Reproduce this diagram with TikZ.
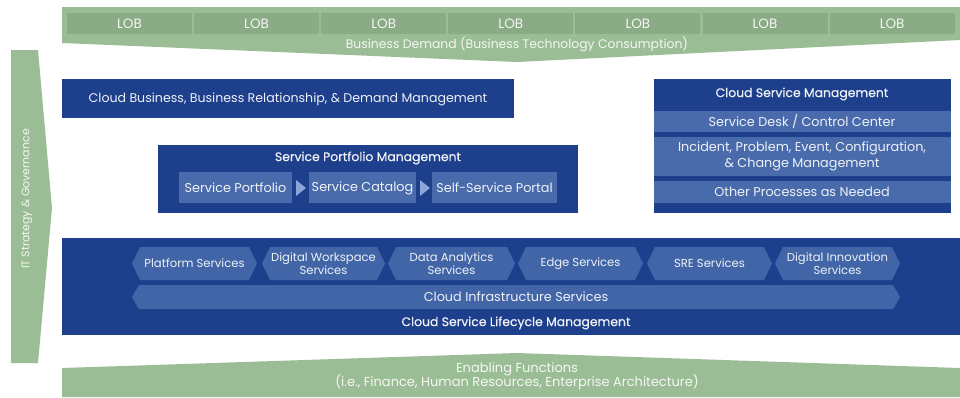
\documentclass[tikz,border=0pt]{standalone}
\usepackage{fontspec}
\setmainfont{Poppins}
\newfontfamily\medfont[FakeBold=0.5]{Poppins}
\definecolor{dblue}{HTML}{1E3F8C}
\definecolor{lblue}{HTML}{4A6BAB}
\definecolor{hblue}{HTML}{4165A7}
\definecolor{tri}{HTML}{8AA6D6}
\definecolor{green}{HTML}{9BBD95}
\definecolor{dgreen}{HTML}{8BAB87}
\definecolor{wtext}{HTML}{EEF1F7}
\definecolor{gtext}{HTML}{F4F7F2}
\tikzset{
  txt/.style={text=wtext, font=\fontsize{12.8}{13}\selectfont, align=center, inner sep=0pt},
  hextxt/.style={text=wtext, font=\fontsize{11.6}{13}\selectfont, align=center, inner sep=0pt},
  gtxt/.style={text=gtext, font=\fontsize{12.4}{14}\selectfont, align=center, inner sep=0pt},
  titletxt/.style={txt, font=\medfont\fontsize{12.4}{13}\selectfont},
}
\newcommand{\hexa}[5]{% x1 x2 y1 y2 depth
  \fill[hblue] (#1,{(#3+#4)/2}) -- (#1+#5,#3) -- (#2-#5,#3) -- (#2,{(#3+#4)/2}) -- (#2-#5,#4) -- (#1+#5,#4) -- cycle;}
\begin{document}
\begin{tikzpicture}[x=1pt,y=-1pt]
\useasboundingbox (0,0) rectangle (960,397);
\fill[white] (0,0) rectangle (960,397);
% top banner
\fill[green] (62,7) -- (960,7) -- (960,40) -- (517,62) -- (62,43) -- cycle;
\foreach \i in {0,...,6} {
  \pgfmathsetmacro{\xa}{67+\i*127.1}
  \fill[dgreen] (\xa,13) rectangle (\xa+125,34);
  \node[gtxt, font=\fontsize{13.5}{14}\selectfont] (lob\i) at (\xa+62.5,24) {LOB};
}
\node[gtxt] (demand) at (517,44) {Business Demand (Business Technology Consumption)};
% left arrow
\fill[green] (11,50) -- (38,50) -- (52,208) -- (38,363) -- (11,363) -- cycle;
\node[gtxt, font=\fontsize{11}{13}\selectfont, rotate=90] (gov) at (27,199) {IT Strategy \& Governance};
% bottom banner
\fill[green] (62,397) -- (62,368) -- (517,353) -- (960,368) -- (960,397) -- cycle;
\node[gtxt, font=\fontsize{13}{14}\selectfont, anchor=base] (enab1) at (517,372) {Enabling Functions};
\node[gtxt, font=\fontsize{13}{14}\selectfont, anchor=base] (enab2) at (517,386) {(i.e., Finance, Human Resources, Enterprise Architecture)};
% cloud business box
\fill[dblue] (62,79) rectangle (514,118);
\node[txt, font=\fontsize{12.6}{13}\selectfont] (cbb) at (288,99) {Cloud Business, Business Relationship, \& Demand Management};
% service portfolio management
\fill[dblue] (158,145) rectangle (578,213);
\node[titletxt] (spm) at (368,158) {Service Portfolio Management};
\fill[lblue] (179,172) rectangle (292,203);
\fill[lblue] (309,172) rectangle (416,203);
\fill[lblue] (432,172) rectangle (557,203);
\fill[tri] (296,180) -- (306,188) -- (296,196) -- cycle;
\fill[tri] (420,180) -- (430,188) -- (420,196) -- cycle;
\node[txt] (sp) at (235.5,188) {Service Portfolio};
\node[txt] (sc) at (362.5,188) {Service Catalog};
\node[txt] (ssp) at (494.5,188) {Self-Service Portal};
% cloud service management
\fill[dblue] (654,79) rectangle (951,213);
\node[titletxt] (csm) at (802,94) {Cloud Service Management};
\fill[lblue] (654,111) rectangle (951,132);
\fill[lblue] (654,137) rectangle (951,176);
\fill[lblue] (654,181) rectangle (951,203);
\node[txt] (sd) at (802,121.5) {Service Desk / Control Center};
\node[txt, font=\fontsize{12.8}{16.5}\selectfont] (ipe) at (802,156.5) {Incident, Problem, Event, Configuration,\\\& Change Management};
\node[txt] (opn) at (802,192) {Other Processes as Needed};
% lifecycle
\fill[dblue] (62,238) rectangle (960,335);
\hexa{132}{257}{247}{280}{8}
\hexa{262}{385}{247}{280}{8}
\hexa{388}{515}{247}{280}{8}
\hexa{518}{643}{247}{280}{8}
\hexa{647}{772}{247}{280}{8}
\hexa{775}{900}{247}{280}{8}
\hexa{132}{900}{285}{309}{7}
\node[hextxt] (ps) at (194.5,263.5) {Platform Services};
\node[hextxt] (dws) at (323.5,263.5) {Digital Workspace\\Services};
\node[hextxt] (das) at (451.5,263.5) {Data Analytics\\Services};
\node[hextxt] (es) at (580.5,263.5) {Edge Services};
\node[hextxt] (sre) at (709.5,263.5) {SRE Services};
\node[hextxt] (dis) at (837.5,263.5) {Digital Innovation\\Services};
\node[txt] (cis) at (516,297) {Cloud Infrastructure Services};
\node[titletxt] (cslm) at (516,323) {Cloud Service Lifecycle Management};
\end{tikzpicture}
\end{document}
